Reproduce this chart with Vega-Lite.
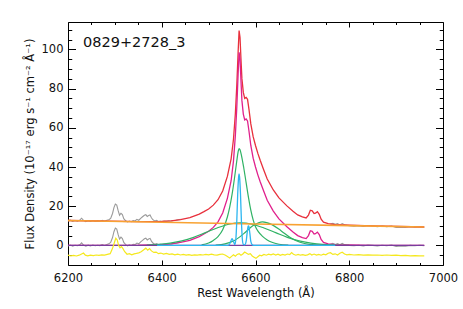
{
  "$schema": "https://vega.github.io/schema/vega-lite/v6.json",
  "width": 375,
  "height": 243,
  "autosize": "none",
  "padding": {"left": 68, "top": 22, "right": 20, "bottom": 44},
  "background": "white",
  "config": {
    "view": {"stroke": "black", "strokeWidth": 1},
    "axis": {"grid": false, "domain": false, "tickColor": "black", "labelColor": "#111111", "titleColor": "#111111", "labelFont": "DejaVu Sans", "titleFont": "DejaVu Sans", "tickWidth": 1}
  },
  "datasets": {
    "zero": [{"w": 6200, "f": 0}, {"w": 6960, "f": 0}],
    "orange": [{"w": 6200, "f": 12.7}, {"w": 6400, "f": 11.83}, {"w": 6600, "f": 10.96}, {"w": 6800, "f": 10.1}, {"w": 6960, "f": 9.4}],
    "label": [{"w": 6232, "f": 101, "t": "0829+2728_3"}],
    "gray": [
      {"s":"u1","w":6200,"f":12.4},{"s":"u1","w":6205,"f":12.88},{"s":"u1","w":6210,"f":12.26},{"s":"u1","w":6215,"f":12.73},{"s":"u1","w":6220,"f":12.41},{"s":"u1","w":6225,"f":12.89},{"s":"u1","w":6229,"f":13.87},{"s":"u1","w":6233,"f":12.76},{"s":"u1","w":6238,"f":12.14},{"s":"u1","w":6243,"f":12.61},{"s":"u1","w":6248,"f":12.19},{"s":"u1","w":6253,"f":12.67},{"s":"u1","w":6258,"f":12.25},{"s":"u1","w":6263,"f":12.53},{"s":"u1","w":6268,"f":12.3},{"s":"u1","w":6273,"f":12.78},{"s":"u1","w":6278,"f":12.36},{"s":"u1","w":6283,"f":12.84},{"s":"u1","w":6287,"f":13.12},{"s":"u1","w":6291,"f":13.81},{"s":"u1","w":6295,"f":16.29},{"s":"u1","w":6298,"f":19.27},{"s":"u1","w":6301,"f":21.06},{"s":"u1","w":6304,"f":20.55},{"s":"u1","w":6307,"f":17.74},{"s":"u1","w":6310,"f":15.42},{"s":"u1","w":6313,"f":16.41},{"s":"u1","w":6316,"f":15.7},{"s":"u1","w":6319,"f":13.68},{"s":"u1","w":6323,"f":12.57},{"s":"u1","w":6327,"f":11.95},{"s":"u1","w":6331,"f":12.43},{"s":"u1","w":6335,"f":12.11},{"s":"u1","w":6339,"f":12.7},{"s":"u1","w":6343,"f":12.48},{"s":"u1","w":6347,"f":13.26},{"s":"u1","w":6351,"f":12.84},{"s":"u1","w":6355,"f":13.83},{"s":"u1","w":6359,"f":14.61},{"s":"u1","w":6363,"f":15.39},{"s":"u1","w":6366,"f":15.68},{"s":"u1","w":6369,"f":14.77},{"s":"u1","w":6372,"f":15.25},{"s":"u1","w":6375,"f":15.54},{"s":"u1","w":6378,"f":14.13},{"s":"u1","w":6381,"f":13.11},{"s":"u1","w":6385,"f":12.5},{"s":"u1","w":6389,"f":12.78},{"s":"u1","w":6393,"f":12.16},{"s":"u1","w":6397,"f":12.45},{"s":"u1","w":6401,"f":12.23},{"s":"u1","w":6405,"f":12.41},{"s":"u1","w":6410,"f":12.29},{"s":"u1","w":6415,"f":12.57},{"s":"u1","w":6420,"f":12.45},{"s":"u1","w":6425,"f":12.72},{"s":"u1","w":6430,"f":12.8},{"s":"u1","w":6435,"f":13.08},{"s":"u1","w":6440,"f":13.26},
      {"s":"l1","w":6200,"f":-0.3},{"s":"l1","w":6205,"f":0.2},{"s":"l1","w":6210,"f":-0.4},{"s":"l1","w":6215,"f":0.1},{"s":"l1","w":6220,"f":-0.2},{"s":"l1","w":6225,"f":0.3},{"s":"l1","w":6229,"f":1.3},{"s":"l1","w":6233,"f":0.2},{"s":"l1","w":6238,"f":-0.4},{"s":"l1","w":6243,"f":0.1},{"s":"l1","w":6248,"f":-0.3},{"s":"l1","w":6253,"f":0.2},{"s":"l1","w":6258,"f":-0.2},{"s":"l1","w":6263,"f":0.1},{"s":"l1","w":6268,"f":-0.1},{"s":"l1","w":6273,"f":0.4},{"s":"l1","w":6278,"f":0.0},{"s":"l1","w":6283,"f":0.5},{"s":"l1","w":6287,"f":0.8},{"s":"l1","w":6291,"f":1.5},{"s":"l1","w":6295,"f":4},{"s":"l1","w":6298,"f":7},{"s":"l1","w":6301,"f":8.8},{"s":"l1","w":6304,"f":8.3},{"s":"l1","w":6307,"f":5.5},{"s":"l1","w":6310,"f":3.2},{"s":"l1","w":6313,"f":4.2},{"s":"l1","w":6316,"f":3.5},{"s":"l1","w":6319,"f":1.5},{"s":"l1","w":6323,"f":0.4},{"s":"l1","w":6327,"f":-0.2},{"s":"l1","w":6331,"f":0.3},{"s":"l1","w":6335,"f":0.0},{"s":"l1","w":6339,"f":0.6},{"s":"l1","w":6343,"f":0.4},{"s":"l1","w":6347,"f":1.2},{"s":"l1","w":6351,"f":0.8},{"s":"l1","w":6355,"f":1.8},{"s":"l1","w":6359,"f":2.6},{"s":"l1","w":6363,"f":3.4},{"s":"l1","w":6366,"f":3.7},{"s":"l1","w":6369,"f":2.8},{"s":"l1","w":6372,"f":3.3},{"s":"l1","w":6375,"f":3.6},{"s":"l1","w":6378,"f":2.2},{"s":"l1","w":6381,"f":1.2},{"s":"l1","w":6385,"f":0.6},{"s":"l1","w":6389,"f":0.9},{"s":"l1","w":6393,"f":0.3},{"s":"l1","w":6397,"f":0.6},{"s":"l1","w":6401,"f":0.4},{"s":"l1","w":6405,"f":0.6},{"s":"l1","w":6410,"f":0.5},{"s":"l1","w":6415,"f":0.8},{"s":"l1","w":6420,"f":0.7},{"s":"l1","w":6425,"f":1.0},{"s":"l1","w":6430,"f":1.1},{"s":"l1","w":6435,"f":1.4},{"s":"l1","w":6440,"f":1.6},
      {"s":"u2","w":6760,"f":10.87},{"s":"u2","w":6765,"f":11.25},{"s":"u2","w":6770,"f":10.73},{"s":"u2","w":6775,"f":11.1},{"s":"u2","w":6780,"f":10.48},{"s":"u2","w":6785,"f":11.16},{"s":"u2","w":6790,"f":10.54},{"s":"u2","w":6795,"f":10.32},{"s":"u2","w":6800,"f":10.1},{"s":"u2","w":6810,"f":9.85},{"s":"u2","w":6820,"f":10.11},{"s":"u2","w":6830,"f":9.67},{"s":"u2","w":6840,"f":10.12},{"s":"u2","w":6850,"f":9.88},{"s":"u2","w":6860,"f":9.54},{"s":"u2","w":6870,"f":9.89},{"s":"u2","w":6880,"f":9.55},{"s":"u2","w":6890,"f":9.91},{"s":"u2","w":6900,"f":9.16},{"s":"u2","w":6910,"f":9.32},{"s":"u2","w":6920,"f":9.18},{"s":"u2","w":6930,"f":9.53},{"s":"u2","w":6940,"f":9.29},{"s":"u2","w":6950,"f":9.55},{"s":"u2","w":6960,"f":9.3},
      {"s":"l2","w":6760,"f":0.6},{"s":"l2","w":6765,"f":1.0},{"s":"l2","w":6770,"f":0.5},{"s":"l2","w":6775,"f":0.9},{"s":"l2","w":6780,"f":0.3},{"s":"l2","w":6785,"f":1.0},{"s":"l2","w":6790,"f":0.4},{"s":"l2","w":6795,"f":0.2},{"s":"l2","w":6800,"f":0.0},{"s":"l2","w":6810,"f":-0.2},{"s":"l2","w":6820,"f":0.1},{"s":"l2","w":6830,"f":-0.3},{"s":"l2","w":6840,"f":0.2},{"s":"l2","w":6850,"f":0.0},{"s":"l2","w":6860,"f":-0.3},{"s":"l2","w":6870,"f":0.1},{"s":"l2","w":6880,"f":-0.2},{"s":"l2","w":6890,"f":0.2},{"s":"l2","w":6900,"f":-0.5},{"s":"l2","w":6910,"f":-0.3},{"s":"l2","w":6920,"f":-0.4},{"s":"l2","w":6930,"f":0.0},{"s":"l2","w":6940,"f":-0.2},{"s":"l2","w":6950,"f":0.1},{"s":"l2","w":6960,"f":-0.1}
    ],
    "red": [
      {"w":6200,"f":12.7},{"w":6350,"f":12.15},{"w":6400,"f":12.23},{"w":6420,"f":12.55},{"w":6440,"f":13.16},{"w":6460,"f":14.17},{"w":6480,"f":15.98},{"w":6490,"f":17.24},{"w":6500,"f":18.6},{"w":6510,"f":20.55},{"w":6520,"f":23.31},{"w":6530,"f":27.77},{"w":6540,"f":35.22},{"w":6548,"f":44.19},{"w":6553,"f":54.17},{"w":6557,"f":67.15},{"w":6560,"f":81.14},{"w":6563,"f":99.12},{"w":6565,"f":109.62},{"w":6567,"f":106.11},{"w":6569,"f":95.1},{"w":6571,"f":85.09},{"w":6574,"f":78.08},{"w":6577,"f":75.06},{"w":6580,"f":75.55},{"w":6583,"f":74.54},{"w":6586,"f":69.52},{"w":6590,"f":62.01},{"w":6595,"f":55.49},{"w":6600,"f":50.96},{"w":6605,"f":46.94},{"w":6610,"f":43.42},{"w":6617,"f":38.89},{"w":6625,"f":33.86},{"w":6638,"f":28.3},{"w":6650,"f":24.25},{"w":6667,"f":20.17},{"w":6680,"f":17.42},{"w":6690,"f":15.57},{"w":6700,"f":14.53},{"w":6708,"f":14.0},{"w":6713,"f":15.47},{"w":6717,"f":17.96},{"w":6721,"f":17.64},{"w":6725,"f":16.22},{"w":6728,"f":16.41},{"w":6732,"f":17.19},{"w":6736,"f":15.87},{"w":6740,"f":13.36},{"w":6745,"f":11.83},{"w":6755,"f":11.09},{"w":6770,"f":10.63},{"w":6800,"f":10.3},{"w":6850,"f":9.93},{"w":6960,"f":9.4}
    ],
    "magenta": [
      {"w":6200,"f":0},{"w":6350,"f":0.1},{"w":6400,"f":0.4},{"w":6420,"f":0.8},{"w":6440,"f":1.5},{"w":6460,"f":2.6},{"w":6480,"f":4.5},{"w":6490,"f":5.8},{"w":6500,"f":7.2},{"w":6510,"f":9.2},{"w":6520,"f":12},{"w":6530,"f":16.5},{"w":6540,"f":24},{"w":6548,"f":33},{"w":6553,"f":43},{"w":6557,"f":56},{"w":6560,"f":70},{"w":6563,"f":88},{"w":6565,"f":98.5},{"w":6567,"f":95},{"w":6569,"f":84},{"w":6571,"f":74},{"w":6574,"f":67},{"w":6577,"f":64},{"w":6580,"f":64.5},{"w":6583,"f":63.5},{"w":6586,"f":58.5},{"w":6590,"f":51},{"w":6595,"f":44.5},{"w":6600,"f":40},{"w":6605,"f":36},{"w":6610,"f":32.5},{"w":6617,"f":28},{"w":6625,"f":23},{"w":6638,"f":17.5},{"w":6650,"f":13.5},{"w":6667,"f":9.5},{"w":6680,"f":6.8},{"w":6690,"f":5},{"w":6700,"f":4},{"w":6708,"f":3.5},{"w":6713,"f":5},{"w":6717,"f":7.5},{"w":6721,"f":7.2},{"w":6725,"f":5.8},{"w":6728,"f":6},{"w":6732,"f":6.8},{"w":6736,"f":5.5},{"w":6740,"f":3},{"w":6745,"f":1.5},{"w":6755,"f":0.8},{"w":6770,"f":0.4},{"w":6800,"f":0.2},{"w":6850,"f":0.05},{"w":6960,"f":0}
    ],
    "green": [
      {"s":"g1","w":6485,"f":0.3},{"s":"g1","w":6500,"f":1.2},{"s":"g1","w":6510,"f":2.5},{"s":"g1","w":6520,"f":4.5},{"s":"g1","w":6530,"f":8},{"s":"g1","w":6540,"f":14.5},{"s":"g1","w":6545,"f":19.5},{"s":"g1","w":6550,"f":26},{"s":"g1","w":6555,"f":34},{"s":"g1","w":6560,"f":43},{"s":"g1","w":6563,"f":47.8},{"s":"g1","w":6565,"f":49.4},{"s":"g1","w":6567,"f":48.8},{"s":"g1","w":6570,"f":46},{"s":"g1","w":6575,"f":39.5},{"s":"g1","w":6580,"f":32},{"s":"g1","w":6585,"f":24.5},{"s":"g1","w":6590,"f":18},{"s":"g1","w":6595,"f":13},{"s":"g1","w":6600,"f":9.5},{"s":"g1","w":6606,"f":7},{"s":"g1","w":6615,"f":4.6},{"s":"g1","w":6625,"f":2.8},{"s":"g1","w":6635,"f":1.6},{"s":"g1","w":6650,"f":0.6},{"s":"g1","w":6670,"f":0.1},
      {"s":"g2","w":6368,"f":0.2},{"s":"g2","w":6393,"f":0.5},{"s":"g2","w":6418,"f":1.2},{"s":"g2","w":6443,"f":2.3},{"s":"g2","w":6468,"f":4.1},{"s":"g2","w":6493,"f":6.5},{"s":"g2","w":6518,"f":8.9},{"s":"g2","w":6543,"f":10.8},{"s":"g2","w":6568,"f":11.5},{"s":"g2","w":6593,"f":10.8},{"s":"g2","w":6618,"f":8.9},{"s":"g2","w":6643,"f":6.5},{"s":"g2","w":6668,"f":4.1},{"s":"g2","w":6693,"f":2.3},{"s":"g2","w":6718,"f":1.2},{"s":"g2","w":6743,"f":0.5},{"s":"g2","w":6768,"f":0.2},{"s":"g2","w":6800,"f":0.05},
      {"s":"g3","w":6515,"f":0.16},{"s":"g3","w":6535,"f":0.75},{"s":"g3","w":6555,"f":2.5},{"s":"g3","w":6575,"f":6.0},{"s":"g3","w":6595,"f":10.1},{"s":"g3","w":6615,"f":12},{"s":"g3","w":6635,"f":10.6},{"s":"g3","w":6655,"f":7.4},{"s":"g3","w":6675,"f":3.9},{"s":"g3","w":6695,"f":1.6},{"s":"g3","w":6715,"f":0.5},{"s":"g3","w":6745,"f":0.06}
    ],
    "cyan": [
      {"w":6390,"f":0},{"w":6540,"f":0},{"w":6544,"f":0.3},{"w":6547,"f":2},{"w":6550,"f":3.5},{"w":6553,"f":2},{"w":6556,"f":0.4},{"w":6558,"f":3},{"w":6560,"f":12},{"w":6562,"f":26},{"w":6564,"f":35},{"w":6565,"f":36.5},{"w":6566,"f":35},{"w":6568,"f":26},{"w":6570,"f":12},{"w":6572,"f":3},{"w":6574,"f":0.5},{"w":6577,"f":0.3},{"w":6580,"f":2},{"w":6582,"f":6},{"w":6584,"f":9.5},{"w":6585,"f":10},{"w":6586,"f":9.5},{"w":6588,"f":6},{"w":6590,"f":2},{"w":6593,"f":0.3},{"w":6596,"f":0},{"w":6770,"f":0}
    ],
    "yellow": [
      {"w":6200,"f":-5.0},{"w":6206,"f":-5.3},{"w":6212,"f":-5.1},{"w":6218,"f":-5.4},{"w":6224,"f":-5.0},{"w":6229,"f":-4.4},{"w":6233,"f":-3.9},{"w":6237,"f":-5.0},{"w":6242,"f":-5.3},{"w":6248,"f":-5.0},{"w":6254,"f":-5.2},{"w":6260,"f":-4.9},{"w":6266,"f":-5.1},{"w":6272,"f":-4.8},{"w":6278,"f":-5.0},{"w":6284,"f":-4.6},{"w":6290,"f":-4.2},{"w":6295,"f":-1.5},{"w":6299,"f":1.5},{"w":6302,"f":3.7},{"w":6305,"f":2.8},{"w":6308,"f":0.0},{"w":6311,"f":-1.2},{"w":6314,"f":-0.6},{"w":6317,"f":-1.5},{"w":6321,"f":-3.2},{"w":6326,"f":-4.5},{"w":6331,"f":-4.2},{"w":6336,"f":-4.8},{"w":6341,"f":-4.3},{"w":6346,"f":-4.1},{"w":6351,"f":-3.8},{"w":6356,"f":-3.2},{"w":6361,"f":-2.3},{"w":6366,"f":-1.4},{"w":6370,"f":-2.4},{"w":6374,"f":-1.6},{"w":6378,"f":-2.8},{"w":6383,"f":-3.6},{"w":6388,"f":-3.4},{"w":6393,"f":-4.2},{"w":6398,"f":-3.9},{"w":6404,"f":-4.4},{"w":6410,"f":-4.1},{"w":6416,"f":-4.6},{"w":6422,"f":-4.3},{"w":6428,"f":-4.8},{"w":6434,"f":-4.5},{"w":6440,"f":-4.9},{"w":6446,"f":-4.6},{"w":6452,"f":-5.0},{"w":6458,"f":-4.7},{"w":6464,"f":-5.1},{"w":6470,"f":-4.8},{"w":6476,"f":-5.0},{"w":6482,"f":-4.7},{"w":6488,"f":-4.9},{"w":6494,"f":-4.6},{"w":6500,"f":-4.8},{"w":6506,"f":-4.5},{"w":6512,"f":-4.8},{"w":6518,"f":-5.0},{"w":6524,"f":-4.6},{"w":6530,"f":-4.4},{"w":6536,"f":-5.0},{"w":6541,"f":-5.8},{"w":6545,"f":-6.4},{"w":6549,"f":-5.6},{"w":6553,"f":-4.8},{"w":6557,"f":-5.5},{"w":6561,"f":-4.6},{"w":6565,"f":-4.2},{"w":6569,"f":-5.0},{"w":6573,"f":-4.4},{"w":6577,"f":-3.4},{"w":6581,"f":-4.0},{"w":6585,"f":-4.6},{"w":6589,"f":-4.2},{"w":6593,"f":-5.4},{"w":6597,"f":-6.0},{"w":6601,"f":-6.6},{"w":6605,"f":-5.8},{"w":6609,"f":-5.0},{"w":6613,"f":-5.3},{"w":6618,"f":-4.6},{"w":6623,"f":-5.0},{"w":6628,"f":-4.5},{"w":6633,"f":-4.8},{"w":6638,"f":-4.3},{"w":6643,"f":-4.9},{"w":6648,"f":-4.5},{"w":6653,"f":-5.1},{"w":6658,"f":-4.6},{"w":6663,"f":-4.9},{"w":6668,"f":-4.4},{"w":6673,"f":-4.7},{"w":6677,"f":-3.7},{"w":6681,"f":-4.5},{"w":6686,"f":-5.0},{"w":6691,"f":-4.6},{"w":6696,"f":-5.0},{"w":6701,"f":-4.7},{"w":6706,"f":-5.1},{"w":6711,"f":-4.8},{"w":6716,"f":-4.2},{"w":6720,"f":-4.9},{"w":6725,"f":-4.4},{"w":6730,"f":-4.9},{"w":6735,"f":-4.6},{"w":6740,"f":-5.0},{"w":6745,"f":-4.5},{"w":6750,"f":-4.8},{"w":6755,"f":-4.0},{"w":6760,"f":-3.7},{"w":6765,"f":-4.6},{"w":6770,"f":-4.3},{"w":6775,"f":-4.9},{"w":6780,"f":-4.0},{"w":6785,"f":-3.5},{"w":6790,"f":-4.4},{"w":6795,"f":-4.8},{"w":6800,"f":-4.6},{"w":6810,"f":-4.9},{"w":6820,"f":-4.7},{"w":6830,"f":-5.0},{"w":6840,"f":-4.8},{"w":6850,"f":-5.0},{"w":6860,"f":-4.9},{"w":6870,"f":-5.1},{"w":6880,"f":-4.9},{"w":6890,"f":-5.1},{"w":6900,"f":-5.0},{"w":6910,"f":-5.2},{"w":6920,"f":-5.1},{"w":6930,"f":-5.3},{"w":6940,"f":-5.2},{"w":6950,"f":-5.3},{"w":6960,"f":-5.3}
    ]
  },
  "resolve": {"axis": {"x": "independent", "y": "independent"}},
  "layer": [
    {
      "data": {"name": "zero"},
      "mark": {"type": "point", "opacity": 0},
      "encoding": {
        "x": {"field": "w", "type": "quantitative", "scale": {"domain": [6200, 7000], "nice": false, "zero": false},
              "axis": {"orient": "bottom", "values": [6200, 6400, 6600, 6800, 7000], "format": "d", "ticks": false, "labelPadding": 7, "labelFontSize": 11.5, "labelFlush": false, "title": "Rest Wavelength (Å)", "titleFontSize": 11.5, "titleFontWeight": "normal", "titlePadding": 4}},
        "y": {"field": "f", "type": "quantitative", "scale": {"domain": [-10, 114], "nice": false, "zero": false},
              "axis": {"orient": "left", "values": [0, 20, 40, 60, 80, 100], "format": "d", "ticks": false, "labelPadding": 5, "labelFontSize": 11.5, "labelFlush": false, "title": "Flux Density (10⁻¹⁷ erg s⁻¹ cm⁻² Å⁻¹)", "titleFontSize": 11.5, "titleFontWeight": "normal", "titlePadding": 6}}
      }
    },
    {
      "data": {"name": "zero"},
      "mark": {"type": "point", "opacity": 0},
      "encoding": {
        "x": {"field": "w", "type": "quantitative", "scale": {"domain": [6200, 7000], "nice": false, "zero": false},
              "axis": {"orient": "bottom", "values": [6200, 6400, 6600, 6800, 7000], "labels": false, "tickSize": -5, "title": null}},
        "y": {"field": "f", "type": "quantitative", "scale": {"domain": [-10, 114], "nice": false, "zero": false},
              "axis": {"orient": "left", "values": [0, 20, 40, 60, 80, 100], "labels": false, "tickSize": -7.5, "title": null}}
      }
    },
    {
      "data": {"name": "zero"},
      "mark": {"type": "point", "opacity": 0},
      "encoding": {
        "x": {"field": "w", "type": "quantitative", "scale": {"domain": [6200, 7000], "nice": false, "zero": false},
              "axis": {"orient": "bottom", "values": [6250, 6300, 6350, 6450, 6500, 6550, 6650, 6700, 6750, 6850, 6900, 6950], "labels": false, "tickSize": -2.5, "title": null}},
        "y": {"field": "f", "type": "quantitative", "scale": {"domain": [-10, 114], "nice": false, "zero": false},
              "axis": {"orient": "left", "values": [-5, 5, 10, 15, 25, 30, 35, 45, 50, 55, 65, 70, 75, 85, 90, 95, 105, 110], "labels": false, "tickSize": -3.75, "title": null}}
      }
    },
    {
      "data": {"name": "zero"},
      "mark": {"type": "point", "opacity": 0},
      "encoding": {
        "x": {"field": "w", "type": "quantitative", "scale": {"domain": [6200, 7000], "nice": false, "zero": false},
              "axis": {"orient": "top", "values": [6200, 6400, 6600, 6800, 7000], "labels": false, "tickSize": -5, "title": null}},
        "y": {"field": "f", "type": "quantitative", "scale": {"domain": [-10, 114], "nice": false, "zero": false},
              "axis": {"orient": "right", "values": [0, 20, 40, 60, 80, 100], "labels": false, "tickSize": -7.5, "title": null}}
      }
    },
    {
      "data": {"name": "zero"},
      "mark": {"type": "point", "opacity": 0},
      "encoding": {
        "x": {"field": "w", "type": "quantitative", "scale": {"domain": [6200, 7000], "nice": false, "zero": false},
              "axis": {"orient": "top", "values": [6250, 6300, 6350, 6450, 6500, 6550, 6650, 6700, 6750, 6850, 6900, 6950], "labels": false, "tickSize": -2.5, "title": null}},
        "y": {"field": "f", "type": "quantitative", "scale": {"domain": [-10, 114], "nice": false, "zero": false},
              "axis": {"orient": "right", "values": [-5, 5, 10, 15, 25, 30, 35, 45, 50, 55, 65, 70, 75, 85, 90, 95, 105, 110], "labels": false, "tickSize": -3.75, "title": null}}
      }
    },
    {
      "data": {"name": "gray"},
      "mark": {"type": "line", "color": "#9a9a9a", "strokeWidth": 1.1},
      "encoding": {
        "x": {"field": "w", "type": "quantitative", "scale": {"domain": [6200, 7000], "nice": false, "zero": false}, "axis": null},
        "y": {"field": "f", "type": "quantitative", "scale": {"domain": [-10, 114], "nice": false, "zero": false}, "axis": null},
        "detail": {"field": "s"}
      }
    },
    {
      "data": {"name": "red"},
      "mark": {"type": "line", "color": "#e8303c", "strokeWidth": 1.3},
      "encoding": {
        "x": {"field": "w", "type": "quantitative", "scale": {"domain": [6200, 7000], "nice": false, "zero": false}, "axis": null},
        "y": {"field": "f", "type": "quantitative", "scale": {"domain": [-10, 114], "nice": false, "zero": false}, "axis": null}
      }
    },
    {
      "data": {"name": "magenta"},
      "mark": {"type": "line", "color": "#e0208c", "strokeWidth": 1.3},
      "encoding": {
        "x": {"field": "w", "type": "quantitative", "scale": {"domain": [6200, 7000], "nice": false, "zero": false}, "axis": null},
        "y": {"field": "f", "type": "quantitative", "scale": {"domain": [-10, 114], "nice": false, "zero": false}, "axis": null}
      }
    },
    {
      "data": {"name": "green"},
      "mark": {"type": "line", "color": "#2fb264", "strokeWidth": 1.2, "interpolate": "monotone"},
      "encoding": {
        "x": {"field": "w", "type": "quantitative", "scale": {"domain": [6200, 7000], "nice": false, "zero": false}, "axis": null},
        "y": {"field": "f", "type": "quantitative", "scale": {"domain": [-10, 114], "nice": false, "zero": false}, "axis": null},
        "detail": {"field": "s"}
      }
    },
    {
      "data": {"name": "orange"},
      "mark": {"type": "line", "color": "#f8a232", "strokeWidth": 1.6},
      "encoding": {
        "x": {"field": "w", "type": "quantitative", "scale": {"domain": [6200, 7000], "nice": false, "zero": false}, "axis": null},
        "y": {"field": "f", "type": "quantitative", "scale": {"domain": [-10, 114], "nice": false, "zero": false}, "axis": null}
      }
    },
    {
      "data": {"name": "zero"},
      "mark": {"type": "line", "color": "#7a3c9e", "strokeWidth": 1.3},
      "encoding": {
        "x": {"field": "w", "type": "quantitative", "scale": {"domain": [6200, 7000], "nice": false, "zero": false}, "axis": null},
        "y": {"field": "f", "type": "quantitative", "scale": {"domain": [-10, 114], "nice": false, "zero": false}, "axis": null}
      }
    },
    {
      "data": {"name": "cyan"},
      "mark": {"type": "line", "color": "#2db6f0", "strokeWidth": 1.3, "interpolate": "monotone"},
      "encoding": {
        "x": {"field": "w", "type": "quantitative", "scale": {"domain": [6200, 7000], "nice": false, "zero": false}, "axis": null},
        "y": {"field": "f", "type": "quantitative", "scale": {"domain": [-10, 114], "nice": false, "zero": false}, "axis": null}
      }
    },
    {
      "data": {"name": "yellow"},
      "mark": {"type": "line", "color": "#f5e81e", "strokeWidth": 1.2},
      "encoding": {
        "x": {"field": "w", "type": "quantitative", "scale": {"domain": [6200, 7000], "nice": false, "zero": false}, "axis": null},
        "y": {"field": "f", "type": "quantitative", "scale": {"domain": [-10, 114], "nice": false, "zero": false}, "axis": null}
      }
    },
    {
      "data": {"name": "label"},
      "mark": {"type": "text", "align": "left", "baseline": "alphabetic", "fontSize": 14.5, "font": "DejaVu Sans", "color": "#111111"},
      "encoding": {
        "x": {"field": "w", "type": "quantitative", "scale": {"domain": [6200, 7000], "nice": false, "zero": false}, "axis": null},
        "y": {"field": "f", "type": "quantitative", "scale": {"domain": [-10, 114], "nice": false, "zero": false}, "axis": null},
        "text": {"field": "t"}
      }
    }
  ]
}
